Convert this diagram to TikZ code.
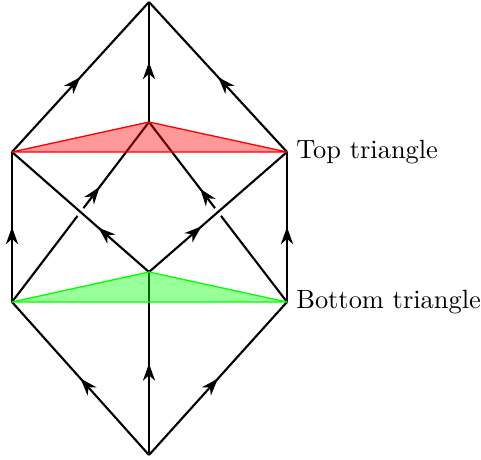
\documentclass[tikz,border=0pt]{standalone}
\usetikzlibrary{arrows.meta,decorations.markings,calc}
\begin{document}
\begin{tikzpicture}[x=0.3788pt,y=-0.3788pt, line join=round,
  edge/.style={line width=0.8pt},
  midarrow/.style={postaction={decorate},decoration={markings,mark=at position #1 with {\arrow{Stealth[length=6.5pt,width=4.6pt,inset=2pt]}}}},
  halo/.style={white,line width=3.6pt},
  lbl/.style={anchor=west}]
\useasboundingbox (0,0) rectangle (481,459);
\coordinate (T) at (149,2);
\coordinate (TL) at (12,152);
\coordinate (TR) at (287,152);
\coordinate (TB) at (149,122);
\coordinate (BL) at (12,302);
\coordinate (BR) at (287,302);
\coordinate (BB) at (149,272);
\coordinate (B) at (149,455);
% outer edges
\draw[edge,midarrow=0.5] (TL) -- (T);
\draw[edge,midarrow=0.5] (TB) -- (T);
\draw[edge,midarrow=0.5] (TR) -- (T);
\draw[edge,midarrow=0.5] (BL) -- (TL);
\draw[edge,midarrow=0.5] (BR) -- (TR);
\draw[edge,midarrow=0.5] (B) -- (BL);
\draw[edge,midarrow=0.5] (B) -- (BB);
\draw[edge,midarrow=0.5] (B) -- (BR);
% crossing edges (under)
\draw[edge,midarrow=0.64] (BL) -- (TB);
\draw[edge,midarrow=0.63] (BR) -- (TB);
% crossing edges (over)
\draw[halo] ($(BB)!0.42!(TL)$) -- ($(BB)!0.58!(TL)$);
\draw[halo] ($(BB)!0.42!(TR)$) -- ($(BB)!0.58!(TR)$);
\draw[edge,midarrow=0.37] (BB) -- (TL);
\draw[edge,midarrow=0.38] (BB) -- (TR);
% triangles
\filldraw[draw=red, fill=red, fill opacity=0.4, line width=0.5pt] (TL) -- (TB) -- (TR) -- cycle;
\filldraw[draw=green, fill=green, fill opacity=0.4, line width=0.5pt] (BL) -- (BB) -- (BR) -- cycle;
% labels
\node[lbl] (toplbl) at (TR) {Top triangle};
\node[lbl] (botlbl) at (BR) {Bottom triangle};
\end{tikzpicture}
\end{document}
